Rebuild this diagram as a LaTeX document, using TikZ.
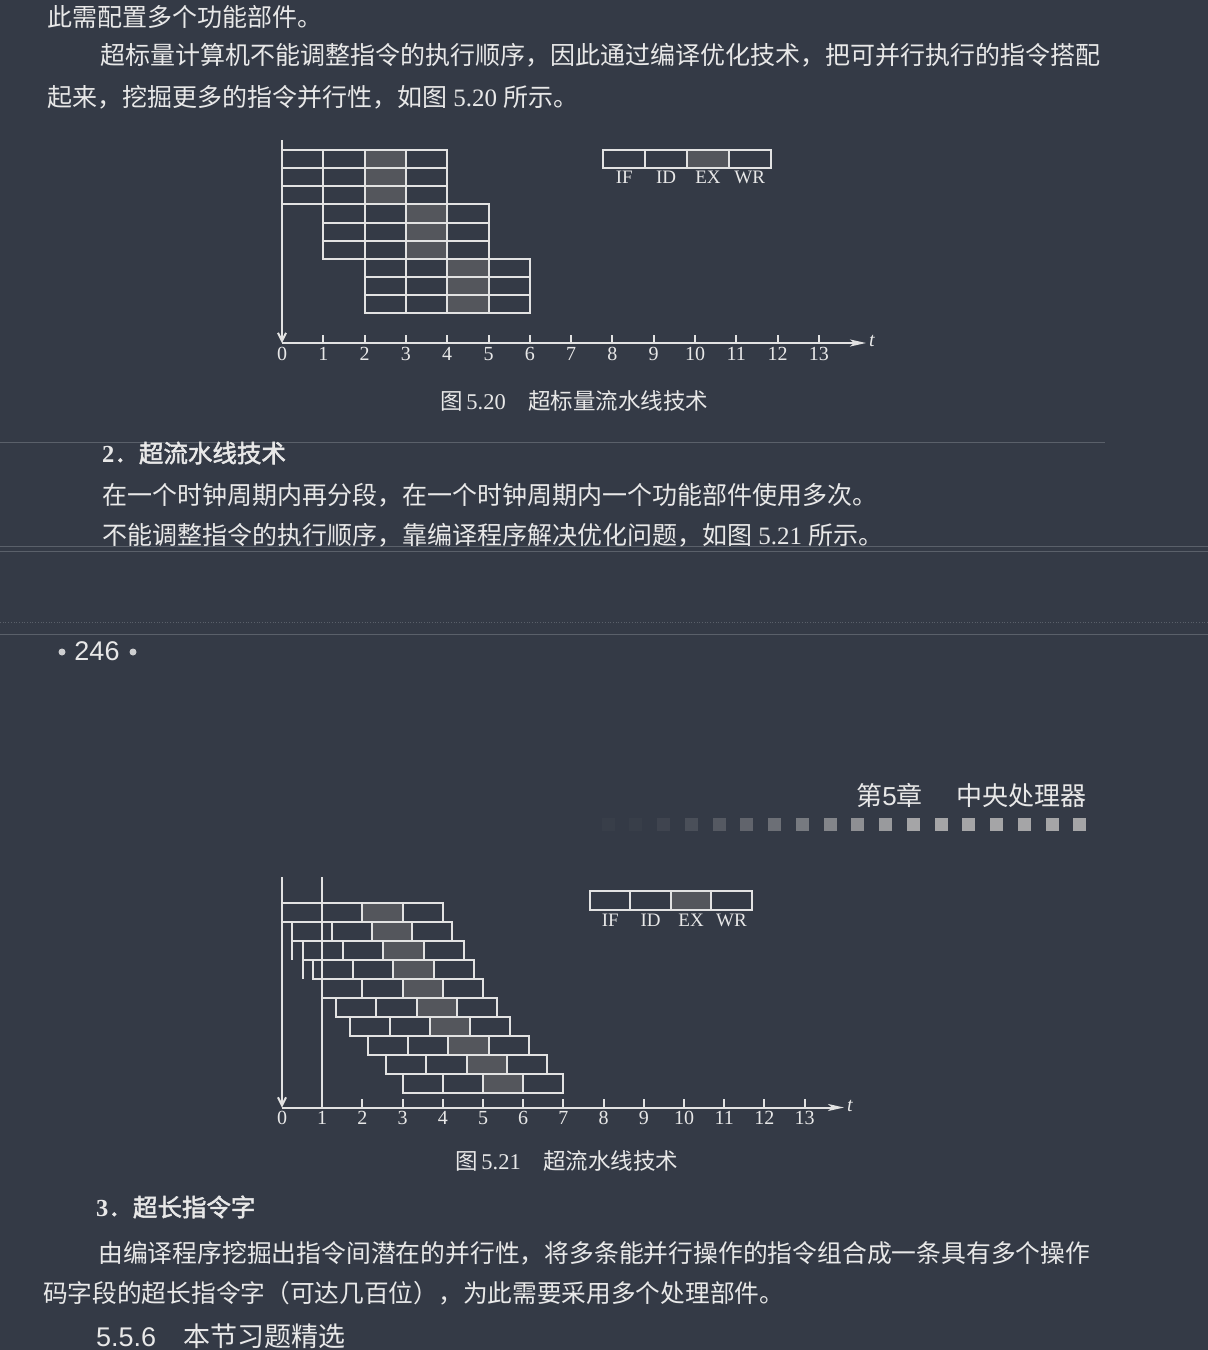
\documentclass[tikz,border=0pt]{standalone}
\usepackage{fontspec}
\setmainfont{Liberation Serif}
\newfontfamily\cjk{Noto Sans CJK SC}
\newfontfamily\cjkb{Noto Sans CJK SC}[FakeBold=2]
\newfontfamily\lsans{Liberation Sans}
\usetikzlibrary{arrows.meta}
\definecolor{bg}{RGB}{52,58,70}
\definecolor{tc}{RGB}{232,232,232}
\definecolor{lc}{RGB}{226,226,226}
\definecolor{exgray}{RGB}{84,86,92}
\definecolor{sqgray}{RGB}{165,165,167}
\definecolor{faint}{RGB}{90,96,106}
\begin{document}
\begin{tikzpicture}[x=1pt,y=-1pt,
  ln/.style={draw=lc,line width=2pt},
  exfill/.style={fill=exgray},
  txt/.style={text=tc,inner sep=0pt,anchor=west},
  body/.style={txt,font=\fontsize{25}{30}\selectfont},
  captext/.style={txt,font=\fontsize{22.5}{27}\selectfont},
  ticklab/.style={text=tc,inner sep=0pt,font=\fontsize{20}{24}\selectfont},
  leglab/.style={text=tc,inner sep=0pt,font=\fontsize{19}{22}\selectfont},
  haxis/.style={ln,-{Stealth[length=16pt,width=7pt,inset=4pt]}},
  vaxis/.style={ln,-{Straight Barb[length=8pt,width=8pt]}},
  faintline/.style={draw=faint,line width=0.7pt},
]
\fill[bg] (0,0) rectangle (1208,1350);
\useasboundingbox (0,0) rectangle (1208,1350);
\clip (0,0) rectangle (1208,1350);

% scan artefact lines
\draw[faintline] (0,442) -- (1105,442);
\draw[faintline] (0,546) -- (1208,546);
\draw[faintline] (0,551) -- (1208,551);
\draw[faintline,dotted] (0,622) -- (1208,622);
\draw[faintline] (0,634) -- (1208,634);

% ---------- top text ----------
\node[body] (t1) at (47,17) {\cjk 此需配置多个功能部件。};
\node[body,font=\fontsize{25}{30}\selectfont] (t2) at (100,55) {\cjk 超标量计算机不能调整指令的执行顺序，因此通过编译优化技术，把可并行执行的指令搭配};
\node[body] (t3) at (47,97) {{\cjk 起来，挖掘更多的指令并行性，如图} 5.20 {\cjk 所示。}};

% ---------- Figure 5.20 ----------
\def\ua{41.3}
\foreach \r in {0,...,8}{
  \pgfmathsetmacro\g{floor(\r/3)}
  \pgfmathsetmacro\yt{150+\r*18.15}
  \pgfmathsetmacro\xe{282+(\g+2)*\ua}
  \fill[exfill] (\xe,\yt) rectangle ({\xe+\ua},{\yt+18.15});
}
\foreach \r in {0,...,8}{
  \pgfmathsetmacro\g{floor(\r/3)}
  \pgfmathsetmacro\yt{150+\r*18.15}
  \foreach \k in {0,...,3}{
    \pgfmathsetmacro\xa{282+(\g+\k)*\ua}
    \draw[ln] (\xa,\yt) rectangle ({\xa+\ua},{\yt+18.15});
  }
}
\coordinate (o1) at (282,343);
\coordinate (v1) at (282,140);
\coordinate (h1) at (866,343);
\draw[vaxis] (v1) -- (o1);
\draw[haxis] (o1) -- (h1);
\foreach \i in {1,...,13} \draw[ln] ({282+\i*\ua},343) -- ({282+\i*\ua},335);
\foreach \i in {0,...,13} \node[ticklab] (la\i) at ({282+\i*\ua},354) {\i};
\node[ticklab,font=\fontsize{20}{24}\selectfont\itshape] (ta) at (872,341) {t};
% legend
\fill[exfill] ({603.3+2*41.85},150) rectangle ({603.3+3*41.85},168.3);
\foreach \k/\lab in {0/IF,1/ID,2/EX,3/WR}{
  \draw[ln] ({603.3+\k*41.85},150) rectangle ({603.3+(\k+1)*41.85},168.3);
  \node[leglab] (lega\k) at ({603.3+(\k+0.5)*41.85},177.5) {\lab};
}
\node[captext] (c1) at (440,401) {{\cjk 图}\,5.20{\cjk 　超标量流水线技术}};

% ---------- middle text ----------
\node[body,font=\fontsize{24.5}{29}\selectfont] (h2) at (102,453) {{\bfseries 2}{\cjkb ．超流水线技术}};
\node[body] (t4) at (102,495) {\cjk 在一个时钟周期内再分段，在一个时钟周期内一个功能部件使用多次。};
\node[body] (t5) at (102,535) {{\cjk 不能调整指令的执行顺序，靠编译程序解决优化问题，如图} 5.21 {\cjk 所示。}};

\fill[tc!85!bg] (62,652) circle (3.5);
\fill[tc!85!bg] (133,652) circle (3.5);
\node[text=tc,inner sep=0pt,font=\lsans\fontsize{27}{32}\selectfont] (pn) at (97,651) {246};

% ---------- page header ----------
\node[txt,anchor=east,font=\fontsize{26}{30}\selectfont] (hdr) at (1087,795) {{\cjk 第}{\lsans 5}{\cjk 章　}\hspace{8pt}{\cjk 中央处理器}};
\foreach \i in {0,...,17}{
  \pgfmathsetmacro\op{max(0.04,min(1,(\i-1)/10))}
  \fill[sqgray,opacity=\op] ({608+\i*27.76-6.5},817.8) rectangle ++(13,13);
}

% ---------- Figure 5.21 ----------
\def\ub{40.2}
\foreach \s [count=\r from 0] in {0,0.24,0.52,0.77,1.0,1.35,1.68,2.14,2.59,3.0}{
  \pgfmathsetmacro\yt{902.7+\r*19.06}
  \pgfmathsetmacro\xe{282+(\s+2)*\ub}
  \fill[exfill] (\xe,\yt) rectangle ({\xe+\ub},{\yt+19.06});
}
\foreach \s [count=\r from 0] in {0,0.24,0.52,0.77,1.0,1.35,1.68,2.14,2.59,3.0}{
  \pgfmathsetmacro\yt{902.7+\r*19.06}
  \foreach \k in {0,...,3}{
    \pgfmathsetmacro\xa{282+(\s+\k)*\ub}
    \draw[ln] (\xa,\yt) rectangle ({\xa+\ub},{\yt+19.06});
  }
}
\draw[ln] ({282+0.24*\ub},{902.7+1*19.06}) -- ({282+0.24*\ub},{902.7+3*19.06});
\draw[ln] ({282+0.52*\ub},{902.7+2*19.06}) -- ({282+0.52*\ub},{902.7+4*19.06});
\coordinate (o2) at (282,1107.5);
\coordinate (v2) at (282,877);
\coordinate (w2a) at ({282+\ub},877);
\coordinate (w2b) at ({282+\ub},1107.5);
\coordinate (h2e) at (844,1107.5);
\draw[vaxis] (v2) -- (o2);
\draw[ln] (w2a) -- (w2b);
\draw[haxis] (o2) -- (h2e);
\foreach \i in {2,...,13} \draw[ln] ({282+\i*\ub},1107.5) -- ({282+\i*\ub},1099);
\foreach \i in {0,...,13} \node[ticklab] (lb\i) at ({282+\i*\ub},1118) {\i};
\node[ticklab,font=\fontsize{20}{24}\selectfont\itshape] (tb) at (850,1106) {t};
% legend
\fill[exfill] ({590+2*40.43},891) rectangle ({590+3*40.43},910);
\foreach \k/\lab in {0/IF,1/ID,2/EX,3/WR}{
  \draw[ln] ({590+\k*40.43},891) rectangle ({590+(\k+1)*40.43},910);
  \node[leglab] (legb\k) at ({590+(\k+0.5)*40.43},920.7) {\lab};
}
\node[captext] (c2) at (455,1161) {{\cjk 图}\,5.21{\cjk 　超流水线技术}};

% ---------- bottom text ----------
\node[body,font=\fontsize{24.5}{29}\selectfont] (h3) at (96,1207) {{\bfseries 3}{\cjkb ．超长指令字}};
\node[body,font=\fontsize{24.8}{30}\selectfont] (t6) at (98,1253) {\cjk 由编译程序挖掘出指令间潜在的并行性，将多条能并行操作的指令组合成一条具有多个操作};
\node[body,font=\fontsize{24.7}{30}\selectfont] (t7) at (43,1293) {\cjk 码字段的超长指令字（可达几百位），为此需要采用多个处理部件。};
\node[text=tc,inner sep=0pt,anchor=base west,font=\fontsize{27}{32}\selectfont] (h4) at (96,1346) {{\lsans 5.5.6}{\cjk 　本节习题精选}};
\end{tikzpicture}
\end{document}
